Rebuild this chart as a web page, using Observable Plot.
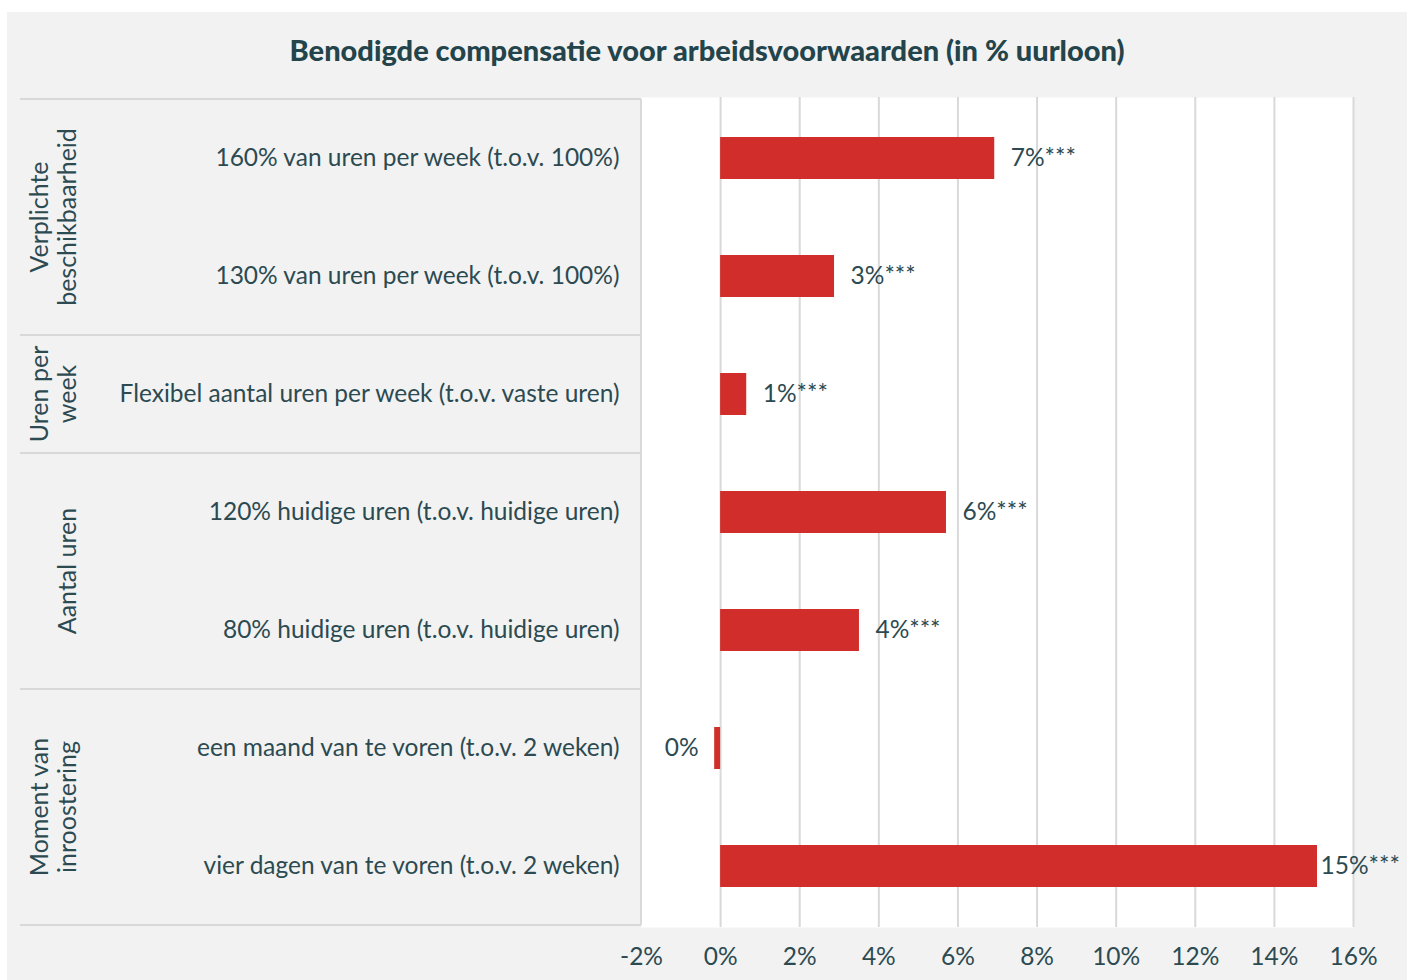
<!DOCTYPE html>
<html>
<head>
<meta charset="utf-8">
<script src="https://cdn.jsdelivr.net/npm/d3@7"></script>
<script src="https://cdn.jsdelivr.net/npm/@observablehq/plot@0.6"></script>
<style>
  html, body { margin: 0; padding: 0; background: #ffffff; }
  #panel { position: absolute; left: 7px; top: 12px; width: 1400px; height: 968px; background: #f2f2f2; overflow: hidden; }
  #title { position: absolute; left: 0; top: 0; width: 1400px; height: 75px; line-height: 75px; text-align: center;
           font-family: Lato, sans-serif; font-weight: 900; font-size: 29px; color: #23444b; }
  #chart { position: absolute; left: 0; top: 75px; }
</style>
</head>
<body>
<div id="panel">
  <div id="title">Benodigde compensatie voor arbeidsvoorwaarden (in % uurloon)</div>
  <div id="chart"></div>
</div>
<script>
const categories = [
  "160% van uren per week (t.o.v. 100%)",
  "130% van uren per week (t.o.v. 100%)",
  "Flexibel aantal uren per week (t.o.v. vaste uren)",
  "120% huidige uren (t.o.v. huidige uren)",
  "80% huidige uren (t.o.v. huidige uren)",
  "een maand van te voren (t.o.v. 2 weken)",
  "vier dagen van te voren (t.o.v. 2 weken)"
];
const values = [6.93, 2.88, 0.66, 5.71, 3.51, -0.15, 15.09];
const valueLabels = ["7%***", "3%***", "1%***", "6%***", "4%***", "0%", "15%***"];
const groupNames = [["Verplichte", "beschikbaarheid"], ["Uren per", "week"], ["Aantal uren"], ["Moment van", "inroostering"]];
const groupMembers = [[0, 1], [2], [3, 4], [5, 6]];
const xTicks = [-2, 0, 2, 4, 6, 8, 10, 12, 14, 16];

const rows = categories.map((c, i) => ({cat: c, value: values[i], label: valueLabels[i]}));
const maxValue = d3.max(values);

const textColor = "#2c4a51";
const font = "Lato, sans-serif";
const fs = 24.5;

function groupMark(index, scales, chanValues, dimensions) {
  const y = scales.y;
  const bw = y.bandwidth ? y.bandwidth() : (dimensions.height - dimensions.marginTop - dimensions.marginBottom) / categories.length;
  const g = d3.create("svg:g");
  groupMembers.forEach((members, gi) => {
    const y0 = y(categories[members[0]]);
    const y1 = y(categories[members[members.length - 1]]) + bw;
    if (gi === 0) {
      g.append("line").attr("x1", 13).attr("x2", dimensions.marginLeft).attr("y1", y0).attr("y2", y0)
        .attr("stroke", "#d9d9d9").attr("stroke-width", 2);
    }
    g.append("line").attr("x1", 13).attr("x2", dimensions.marginLeft).attr("y1", y1).attr("y2", y1)
      .attr("stroke", "#d9d9d9").attr("stroke-width", 2);
    const lines = groupNames[gi];
    const cy = (y0 + y1) / 2;
    lines.forEach((ln, li) => {
      const cx = 59 - (lines.length - 1 - li) * 28;
      g.append("text")
        .attr("transform", `translate(${cx},${cy}) rotate(-90)`)
        .attr("text-anchor", "middle")
        .attr("dominant-baseline", "central")
        .attr("fill", textColor)
        .attr("font-family", font)
        .attr("font-size", 25)
        .text(ln);
    });
  });
  const yTop = y(categories[0]);
  const yBot = y(categories[categories.length - 1]) + bw;
  g.append("line").attr("x1", dimensions.marginLeft).attr("x2", dimensions.marginLeft).attr("y1", yTop).attr("y2", yBot)
    .attr("stroke", "#d9d9d9").attr("stroke-width", 2);
  return g.node();
}

const plot = Plot.plot({
  width: 1400,
  height: 893,
  marginLeft: 634,
  marginRight: 54,
  marginTop: 10,
  marginBottom: 53,
  style: { background: "transparent", fontFamily: font, color: textColor },
  x: { domain: [-2, 16], ticks: xTicks, tickFormat: d => d + "%" },
  y: { domain: categories, padding: 0 },
  marks: [
    Plot.frame({ fill: "white", stroke: null }),
    Plot.gridX(xTicks.filter(d => d > -2), { stroke: "#d9d9d9", strokeOpacity: 1, strokeWidth: 2 }),
    Plot.barX(rows, { x: "value", y: "cat", fill: "#d12d2b", insetTop: 38, insetBottom: 38 }),
    Plot.text(rows.filter(d => d.value >= 0 && d.value < maxValue), { x: "value", y: "cat", text: "label", textAnchor: "start", dx: 16, fontSize: fs, fill: textColor }),
    Plot.text(rows.filter(d => d.value === maxValue), { x: "value", y: "cat", text: "label", textAnchor: "start", dx: 3, fontSize: fs, fill: textColor }),
    Plot.text(rows.filter(d => d.value < 0), { x: "value", y: "cat", text: "label", textAnchor: "end", dx: -16, fontSize: fs, fill: textColor }),
    Plot.axisX({ ticks: xTicks, tickFormat: d => d + "%", tickSize: 0, tickPadding: 20, fontSize: fs, label: null, fill: textColor }),
    Plot.axisY({ tickSize: 0, tickPadding: 22, fontSize: fs, label: null, fill: textColor }),
    groupMark
  ]
});
document.getElementById("chart").appendChild(plot);
</script>
</body>
</html>
